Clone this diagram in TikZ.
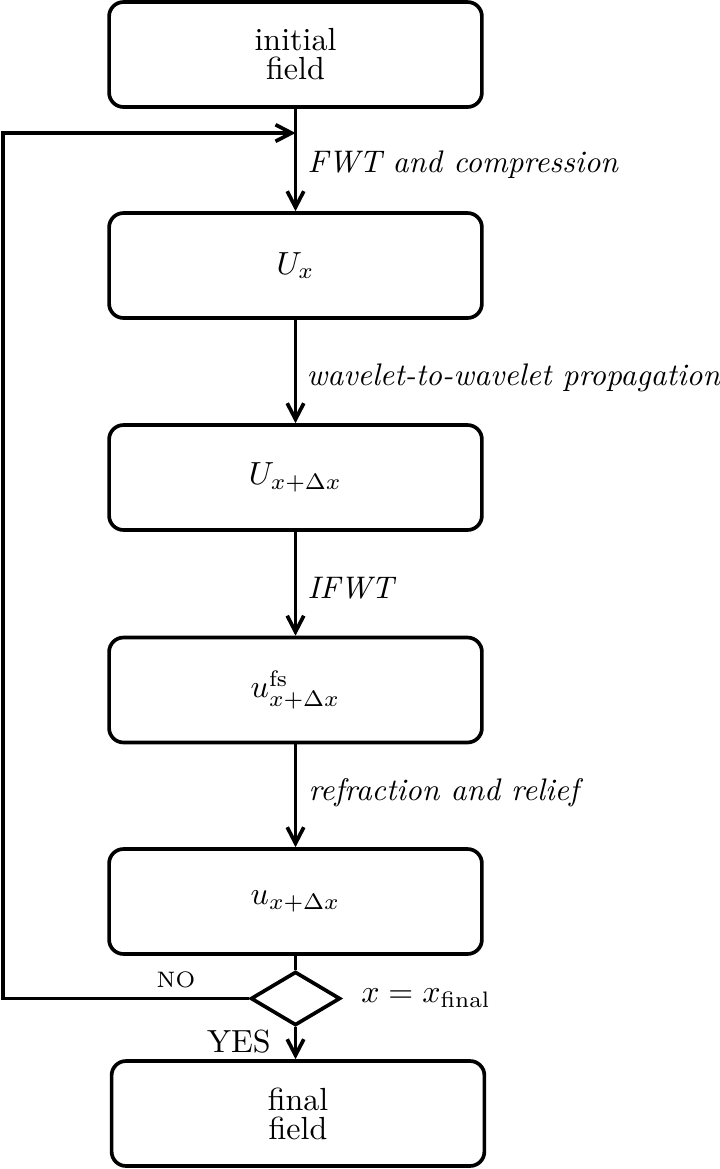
\documentclass[tikz,border=0pt]{standalone}
\usetikzlibrary{shapes.geometric,arrows.meta}
\begin{document}
\begin{tikzpicture}[x=0.3125pt,y=-0.3125pt,
  box/.style={draw,rounded corners=4.5pt,minimum width=116.5pt,minimum height=32.8pt,
    line width=1.15pt,align=center,inner sep=0pt},
  dec/.style={draw,diamond,minimum width=28pt,minimum height=16.8pt,inner sep=0pt,line width=1.15pt},
  arr/.style={line width=1.15pt,-{Straight Barb[length=5pt,width=5.2pt]}},
  lbl/.style={anchor=base west,inner sep=0pt,font=\fontsize{9.75}{12}\selectfont\itshape},
  plain/.style={line width=1.15pt}]
\useasboundingbox (0,0) rectangle (720,1169);
\node[box] (init) at (295.5,54.5) {initial\\[-2.9pt]field};
\node[box] (ux) at (295.5,265.5) {$U_x$};
\node[box] (uxd) at (295.5,477.5) {$U_{x+\Delta x}$};
\node[box] (ufs) at (295.5,690) {$u^{\mathrm{fs}}_{x+\Delta x}$};
\node[box] (u) at (295.5,901.5) {$u_{x+\Delta x}$};
\node[dec] (d) at (295.5,998.5) {};
\node[box] (fin) at (298,1113.5) {final\\[-2.9pt]field};
\coordinate (m) at (295.5,133);
\coordinate (c1) at (3,998.5);
\coordinate (c2) at (3,133);
\draw[plain] (init.south) -- (m);
\draw[arr] (m) -- (ux.north);
\draw[arr] (ux) -- (uxd);
\draw[arr] (uxd) -- (ufs);
\draw[arr] (ufs) -- (u);
\node[lbl] (l1) at (307,172) {FWT and compression};
\node[lbl] (l2) at (306,385) {wavelet-to-wavelet propagation};
\node[lbl] (l3) at (307,598) {IFWT};
\node[lbl] (l4) at (308,800) {refraction and relief};
\draw[plain] (u.south) -- (d.north);
\draw[arr] (d.west) -- (c1) -- (c2) -- (m);
\draw[arr] (d.south) -- (fin.north -| d.south);
\node[font=\scriptsize] (no) at (176,980) {NO};
\node (yes) at (239,1042) {YES};
\node[anchor=west] (cond) at (350,998) {$x=x_{\mathrm{final}}$};
\end{tikzpicture}
\end{document}
